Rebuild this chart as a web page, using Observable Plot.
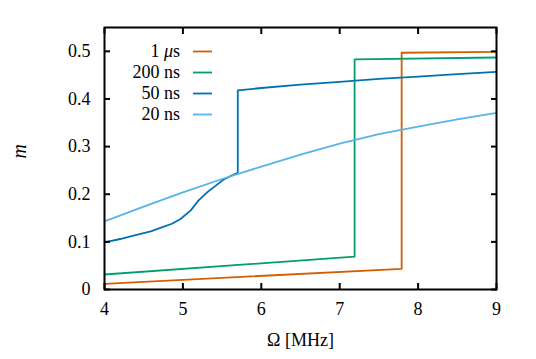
<!DOCTYPE html>
<html>
<head>
<meta charset="utf-8">
<script src="https://cdn.jsdelivr.net/npm/d3@7"></script>
<script src="https://cdn.jsdelivr.net/npm/@observablehq/plot@0.6"></script>
</head>
<body style="margin:0;padding:0;background:white;font-family:'Times New Roman', serif">
<div id="wrap" style="position:relative;width:536px;height:359px;font-family:'Times New Roman', serif"></div>
<script>
// Series data
const seriesNames = ["1 μs", "200 ns", "50 ns", "20 ns"];
const seriesColors = ["#d55e00", "#009e73", "#0072b2", "#56b4e9"];

const omega1us = [4.0, 7.79, 7.79, 9.0];
const m1us     = [0.012, 0.0435, 0.497, 0.499];

const omega200ns = [4.0, 7.19, 7.19, 9.0];
const m200ns     = [0.0315, 0.069, 0.483, 0.487];

const omega50ns = [4.0, 4.2, 4.37, 4.59, 4.74, 4.86, 4.97, 5.10, 5.20, 5.31, 5.42, 5.52, 5.62, 5.70, 5.70, 6.0, 6.5, 7.0, 7.5, 8.0, 8.5, 9.0];
const m50ns     = [0.099, 0.106, 0.113, 0.122, 0.131, 0.138, 0.148, 0.166, 0.187, 0.204, 0.218, 0.231, 0.239, 0.245, 0.418, 0.423, 0.430, 0.436, 0.442, 0.447, 0.452, 0.457];

const omega20ns = [4.0, 4.5, 5.0, 5.5, 6.0, 6.5, 7.0, 7.5, 8.0, 8.5, 9.0];
const m20ns     = [0.143, 0.174, 0.204, 0.232, 0.258, 0.283, 0.306, 0.326, 0.342, 0.357, 0.371];

const xTicks = [4, 5, 6, 7, 8, 9];
const xTickLabels = ["4", "5", "6", "7", "8", "9"];
const yTicks = [0, 0.1, 0.2, 0.3, 0.4, 0.5];
const yTickLabels = ["0", "0.1", "0.2", "0.3", "0.4", "0.5"];
const xLabel = "Ω [MHz]";
const yLabel = "m";

const allOmega = [omega1us, omega200ns, omega50ns, omega20ns];
const allM = [m1us, m200ns, m50ns, m20ns];
const rows = [];
seriesNames.forEach((s, i) => {
  allOmega[i].forEach((o, j) => rows.push({series: s, omega: o, m: allM[i][j]}));
});

const pick = (ticks, labels) => d => labels[ticks.findIndex(t => Math.abs(t - d) < 1e-9)];
const FONT = "'Times New Roman', serif";

const chart = Plot.plot({
  width: 536,
  height: 359,
  marginLeft: 104,
  marginRight: 40,
  marginTop: 27,
  marginBottom: 70,
  style: {fontFamily: FONT, fontSize: "18px", background: "white"},
  x: {domain: [4, 9]},
  y: {domain: [0, 0.55]},
  color: {domain: seriesNames, range: seriesColors},
  marks: [
    Plot.line(rows, {x: "omega", y: "m", z: "series", stroke: "series", strokeWidth: 1.8, curve: "linear"}),
    Plot.axisX({anchor: "bottom", ticks: xTicks, tickSize: -6, tickPadding: 19, strokeWidth: 2,
      tickFormat: pick(xTicks, xTickLabels), label: null}),
    Plot.axisX({anchor: "top", ticks: xTicks, tickSize: -6, strokeWidth: 2, tickFormat: () => "", label: null}),
    Plot.axisY({anchor: "left", ticks: yTicks, tickSize: -6, tickPadding: 20, strokeWidth: 2,
      tickFormat: pick(yTicks, yTickLabels), label: null}),
    Plot.axisY({anchor: "right", ticks: yTicks, tickSize: -6, strokeWidth: 2, tickFormat: () => "", label: null}),
    Plot.text([xLabel], {frameAnchor: "bottom", dy: 51, text: d => d, fontSize: 18, lineAnchor: "middle"}),
    Plot.text([yLabel], {frameAnchor: "left", dx: -85, text: d => d, fontSize: 20, rotate: -90, fontStyle: "italic", lineAnchor: "middle"}),
    Plot.frame({stroke: "black", strokeWidth: 2})
  ]
});

const wrap = document.getElementById("wrap");
wrap.appendChild(chart);

// Legend (inside plot, top-left)
const legend = document.createElement("div");
legend.setAttribute("style", "position:absolute;left:0;top:0;font-size:18px;color:black;font-family:'Times New Roman', serif");
const rowCenters = [51, 72, 93, 114];
seriesNames.forEach((s, i) => {
  const row = document.createElement("div");
  row.setAttribute("style", `position:absolute;left:0;top:${rowCenters[i] - 10.5}px;width:215px;height:21px;line-height:21px`);
  const lab = document.createElement("span");
  lab.setAttribute("style", "position:absolute;right:35px;white-space:nowrap;text-align:right");
  lab.innerHTML = s === "1 μs" ? "1 <i>μ</i>s" : s;
  row.appendChild(lab);
  const sw = document.createElementNS("http://www.w3.org/2000/svg", "svg");
  sw.setAttribute("width", "20");
  sw.setAttribute("height", "21");
  sw.setAttribute("style", "position:absolute;left:193px;top:0");
  const ln = document.createElementNS("http://www.w3.org/2000/svg", "line");
  ln.setAttribute("x1", "0"); ln.setAttribute("x2", "19");
  ln.setAttribute("y1", "10.5"); ln.setAttribute("y2", "10.5");
  ln.setAttribute("stroke", seriesColors[i]);
  ln.setAttribute("stroke-width", "1.8");
  sw.appendChild(ln);
  row.appendChild(sw);
  legend.appendChild(row);
});
wrap.appendChild(legend);
</script>
</body>
</html>
